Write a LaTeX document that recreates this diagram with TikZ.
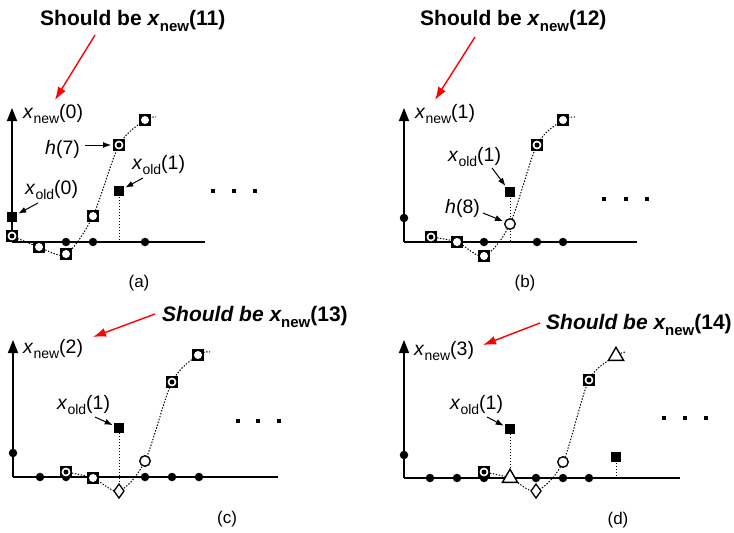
\documentclass[tikz,border=0pt]{standalone}
\usepackage{fontspec}
\setmainfont{Liberation Sans}
\usetikzlibrary{arrows.meta,shapes.geometric}
\newcommand\lsub[1]{\raisebox{-0.3em}{\fontsize{14}{14}\selectfont #1}}
\newcommand\bsub[1]{\raisebox{-0.3em}{\fontsize{15}{15}\selectfont\bfseries\upshape #1}}
\begin{document}
\begin{tikzpicture}[x=1pt,y=-1pt,
  lbl/.style={font=\fontsize{19.5}{22}\selectfont, inner sep=0, anchor=base west},
  big/.style={font=\fontsize{21}{24}\selectfont\bfseries, inner sep=0, anchor=base west},
  capt/.style={font=\fontsize{17}{20}\selectfont, inner sep=0},
  yaxis/.style={line width=1.6pt, -{Triangle[length=13pt,width=10pt]}},
  xaxis/.style={line width=1.6pt},
  redarr/.style={red, line width=1.4pt, -{Latex[length=13pt,width=9pt]}},
  lblarr/.style={line width=1pt, -{Latex[length=8pt,width=6pt]}, shorten >=1.5pt},
  dotline/.style={line width=1pt, dash pattern=on 1.4pt off 1.6pt},
  dotm/.style={circle, fill=black, inner sep=0, minimum size=8.5pt},
  fsq/.style={rectangle, fill=black, inner sep=0, minimum size=9.5pt},
  sqo/.style={rectangle, fill=black, inner sep=0, minimum size=12.5pt,
    path picture={\fill[white] (path picture bounding box.center) circle (4pt);}},
  sqring/.style={rectangle, fill=black, inner sep=0, minimum size=12.5pt,
    path picture={\fill[white] (path picture bounding box.center) circle (4.4pt);
                  \fill[black] (path picture bounding box.center) circle (2.5pt);}},
  ocirc/.style={circle, draw, fill=white, line width=1.4pt, inner sep=0, minimum size=10.5pt},
  dmd/.style={diamond, draw, fill=white, line width=1.3pt, inner sep=0, minimum width=10.5pt, minimum height=14.5pt},
  tri/.style={regular polygon, regular polygon sides=3, draw, fill=white, line width=1.4pt, inner sep=0, minimum size=17.5pt},
  ell/.style={rectangle, fill=black, inner sep=0, minimum size=4pt}
]
\useasboundingbox (0,0) rectangle (734,533);

% ---------------- panel (a) ----------------
\coordinate (aO) at (12,242); \coordinate (aY) at (12,108); \coordinate (aX) at (205,242);
\draw[xaxis] (aO) -- (aX);
\draw[yaxis] (aO) -- (aY);
\coordinate (pa0) at (12,236); \coordinate (pa1) at (39,247); \coordinate (pa2) at (66,254);
\coordinate (pa3) at (93,216); \coordinate (pa4) at (119,145); \coordinate (pa5) at (145,120);
\coordinate (pa6) at (156,117);
\coordinate (pax) at (119,191); \coordinate (pab) at (119,242);
\draw[dotline] (pax) -- (pab);
\draw[dotline] plot[smooth] coordinates {(pa0) (pa1) (pa2) (pa3) (pa4) (pa5) (pa6)};
\node[dotm] (da1) at (66,242) {};
\node[dotm] (da2) at (93,242) {};
\node[dotm] (da3) at (145,242) {};
\node[sqring] (ma0) at (pa0) {};
\node[sqo] (ma1) at (pa1) {};
\node[sqo] (ma2) at (pa2) {};
\node[sqo] (ma3) at (pa3) {};
\node[sqring] (ma4) at (pa4) {};
\node[sqo] (ma5) at (pa5) {};
\node[fsq] (xa0) at (12,217) {};
\node[fsq] (xa1) at (pax) {};
\node[ell] (ea1) at (213,191) {};
\node[ell] (ea2) at (234,191) {};
\node[ell] (ea3) at (255,191) {};
\node[big] (sa) at (40,25) {Should be \textit{x}\bsub{new}(11)};
\node[lbl] (na) at (23,118) {\textit{x}\lsub{new}(0)};
\node[lbl] (ha) at (45,154) {\textit{h}(7)};
\node[lbl] (oa0) at (25,194) {\textit{x}\lsub{old}(0)};
\node[lbl] (oa1) at (132,169) {\textit{x}\lsub{old}(1)};
\node[capt] (capa) at (139,283) {(a)};
\coordinate (ra1) at (95,35); \coordinate (ra2) at (55,100);
\draw[redarr] (ra1) -- (ra2);
\coordinate (has) at (85,145); \draw[lblarr] (has) -- (ma4);
\coordinate (oa0s) at (38,203); \draw[lblarr] (oa0s) -- (xa0);
\coordinate (oa1s) at (143,178); \draw[lblarr] (oa1s) -- (xa1);

% ---------------- panel (b) ----------------
\coordinate (bO) at (404,242); \coordinate (bY) at (404,108); \coordinate (bX) at (637,242);
\draw[xaxis] (bO) -- (bX);
\draw[yaxis] (bO) -- (bY);
\coordinate (pb1) at (431,237); \coordinate (pb2) at (457,242); \coordinate (pb3) at (484,256);
\coordinate (pb4) at (510,224); \coordinate (pb5) at (537,145); \coordinate (pb6) at (563,120);
\coordinate (pb7) at (575,117);
\coordinate (pbx) at (510,192); \coordinate (pbb) at (510,242);
\draw[dotline] (pbx) -- (pbb);
\draw[dotline] plot[smooth] coordinates {(pb1) (pb2) (pb3) (pb4) (pb5) (pb6) (pb7)};
\node[dotm] (db0) at (404,218) {};
\node[dotm] (db1) at (484,242) {};
\node[dotm] (db2) at (537,242) {};
\node[dotm] (db3) at (563,242) {};
\node[sqring] (mb1) at (pb1) {};
\node[sqo] (mb2) at (pb2) {};
\node[sqo] (mb3) at (pb3) {};
\node[ocirc] (mb4) at (pb4) {};
\node[sqring] (mb5) at (pb5) {};
\node[sqo] (mb6) at (pb6) {};
\node[fsq] (xb1) at (pbx) {};
\node[ell] (eb1) at (604,199) {};
\node[ell] (eb2) at (626,199) {};
\node[ell] (eb3) at (647,199) {};
\node[big] (sb) at (420,25) {Should be \textit{x}\bsub{new}(12)};
\node[lbl] (nb) at (415,118) {\textit{x}\lsub{new}(1)};
\node[lbl] (ob1) at (448,161) {\textit{x}\lsub{old}(1)};
\node[lbl] (hb) at (445,213) {\textit{h}(8)};
\node[capt] (capb) at (525,283) {(b)};
\coordinate (rb1) at (475,37); \coordinate (rb2) at (435,100);
\draw[redarr] (rb1) -- (rb2);
\coordinate (ob1s) at (492,168); \draw[lblarr] (ob1s) -- (xb1);
\coordinate (hbs) at (483,213); \draw[lblarr] (hbs) -- (mb4);

% ---------------- panel (c) ----------------
\coordinate (cO) at (13,477); \coordinate (cY) at (13,340); \coordinate (cX) at (278,477);
\draw[xaxis] (cO) -- (cX);
\draw[yaxis] (cO) -- (cY);
\coordinate (pc1) at (66,472); \coordinate (pc2) at (93,478); \coordinate (pc3) at (119,491);
\coordinate (pc4) at (145,461); \coordinate (pc5) at (172,382); \coordinate (pc6) at (198,355);
\coordinate (pc7) at (210,352);
\coordinate (pcx) at (119,428);
\draw[dotline] plot[smooth] coordinates {(pc1) (pc2) (pc3) (pc4) (pc5) (pc6) (pc7)};
\node[dotm] (dc0) at (13,453) {};
\node[dotm] (dc1) at (40,477) {};
\node[dotm] (dc2) at (66,477) {};
\node[dotm] (dc3) at (145,477) {};
\node[dotm] (dc4) at (172,477) {};
\node[dotm] (dc5) at (199,477) {};
\node[sqring] (mc1) at (pc1) {};
\node[sqo] (mc2) at (pc2) {};
\node[dmd] (mc3) at (pc3) {};
\node[ocirc] (mc4) at (pc4) {};
\node[sqring] (mc5) at (pc5) {};
\node[sqo] (mc6) at (pc6) {};
\node[fsq] (xc1) at (pcx) {};
\draw[dotline] (xc1) -- (mc3.north);
\node[ell] (ec1) at (238,421) {};
\node[ell] (ec2) at (258,421) {};
\node[ell] (ec3) at (279,421) {};
\node[big] (sc) at (162,321) {\itshape Should be x\bsub{new}\upshape(13)};
\node[lbl] (nc) at (23,353) {\textit{x}\lsub{new}(2)};
\node[lbl] (oc1) at (57,409) {\textit{x}\lsub{old}(1)};
\node[capt] (capc) at (227,519) {(c)};
\coordinate (rc1) at (155,314); \coordinate (rc2) at (93,337);
\draw[redarr] (rc1) -- (rc2);
\coordinate (oc1s) at (95,417); \draw[lblarr] (oc1s) -- (xc1);

% ---------------- panel (d) ----------------
\coordinate (dO) at (404,478); \coordinate (dY) at (404,340); \coordinate (dX) at (680,478);
\draw[xaxis] (dO) -- (dX);
\draw[yaxis] (dO) -- (dY);
\coordinate (pd1) at (484,472); \coordinate (pd2) at (510,478); \coordinate (pd3) at (536,491);
\coordinate (pd4) at (563,462); \coordinate (pd5) at (589,380); \coordinate (pd6) at (616,356);
\coordinate (pd7) at (626,352);
\coordinate (pdx) at (510,429); \coordinate (pdy) at (616,457); \coordinate (pdb) at (616,478);
\draw[dotline] (pdy) -- (pdb);
\draw[dotline] plot[smooth] coordinates {(pd1) (pd2) (pd3) (pd4) (pd5) (pd6) (pd7)};
\node[dotm] (dd0) at (404,455) {};
\node[dotm] (dd1) at (430,478) {};
\node[dotm] (dd2) at (457,478) {};
\node[dotm] (dd3) at (484,478) {};
\node[dotm] (dd4) at (536,478) {};
\node[dotm] (dd5) at (563,478) {};
\node[dotm] (dd6) at (589,478) {};
\node[sqring] (md1) at (pd1) {};
\node[tri] (md2) at (pd2) {};
\node[dmd] (md3) at (pd3) {};
\node[ocirc] (md4) at (pd4) {};
\node[sqring] (md5) at (pd5) {};
\node[tri] (md6) at (pd6) {};
\node[fsq] (xd1) at (pdx) {};
\node[fsq] (xd2) at (pdy) {};
\draw[dotline] (xd1) -- (md2.north);
\node[ell] (ed1) at (664,418) {};
\node[ell] (ed2) at (685,418) {};
\node[ell] (ed3) at (706,418) {};
\node[big] (sd) at (546,329) {\itshape Should be x\bsub{new}\upshape(14)};
\node[lbl] (nd) at (414,355) {\textit{x}\lsub{new}(3)};
\node[lbl] (od1) at (450,409) {\textit{x}\lsub{old}(1)};
\node[capt] (capd) at (618,520) {(d)};
\coordinate (rd1) at (540,323); \coordinate (rd2) at (483,345);
\draw[redarr] (rd1) -- (rd2);
\coordinate (od1s) at (487,417); \draw[lblarr] (od1s) -- (xd1);
\end{tikzpicture}
\end{document}
